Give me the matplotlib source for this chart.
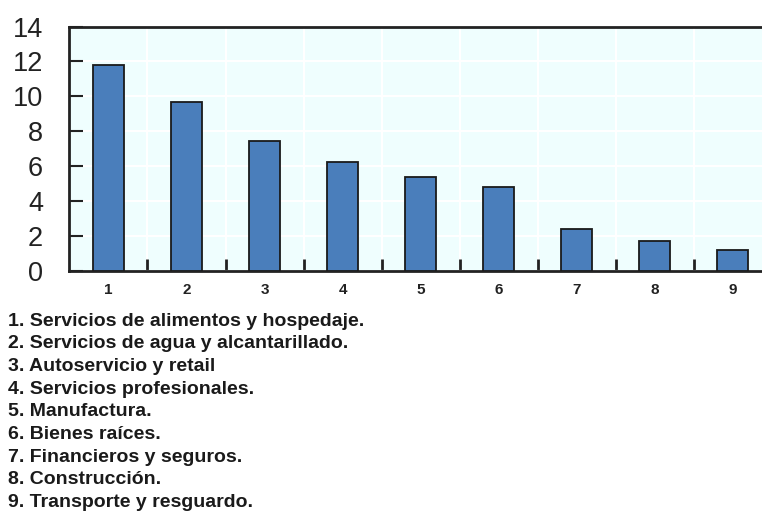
import matplotlib.pyplot as plt
import numpy as np

# porcentaje por sector
sectores = [1, 2, 3, 4, 5, 6, 7, 8, 9]
valores = [11.8, 9.65, 7.45, 6.25, 5.4, 4.8, 2.43, 1.72, 1.2]
yticks = [0, 2, 4, 6, 8, 10, 12, 14]
nombres = [
    "1. Servicios de alimentos y hospedaje.",
    "2. Servicios de agua y alcantarillado.",
    "3. Autoservicio y retail",
    "4. Servicios profesionales.",
    "5. Manufactura.",
    "6. Bienes raíces.",
    "7. Financieros y seguros.",
    "8. Construcción.",
    "9. Transporte y resguardo.",
]

fig = plt.figure(figsize=(7.62, 5.14), dpi=100)
ax = fig.add_axes([0.0912, 0.4728, 0.9213, 0.4756])
ax.set_facecolor('#effefe')

ax.bar(sectores, valores, width=0.4, color='#4a7ebb', edgecolor='#1a1a1a',
       linewidth=1.3, zorder=3)

ax.set_xlim(0.5, 9.5)
ax.set_ylim(0, 14)

# lineas blancas de la cuadricula
ax.set_xticks(np.arange(1.5, 9.5, 1), minor=True)
ax.set_yticks(yticks)
ax.set_xticks(sectores)
ax.grid(axis='y', color='white', linewidth=1.5, zorder=1)
ax.grid(axis='x', which='minor', color='white', linewidth=1.5, zorder=1)
ax.set_axisbelow(True)

ax.tick_params(axis='y', direction='in', length=10, width=1.5, pad=19,
               labelsize=19.5, color='#222222')
ax.tick_params(axis='x', which='major', length=0, pad=9)
ax.tick_params(axis='x', which='minor', direction='in', length=9, width=2,
               color='#222222')
for lab in ax.get_yticklabels():
    lab.set_fontfamily(['Liberation Sans', 'DejaVu Sans'])
    lab.set_color('#222222')
for lab in ax.get_xticklabels():
    lab.set_fontfamily(['Liberation Sans', 'DejaVu Sans'])
    lab.set_fontweight('bold')
    lab.set_fontsize(11)
    lab.set_color('#222222')

for s in ['left', 'top', 'bottom']:
    ax.spines[s].set_linewidth(2)
    ax.spines[s].set_color('#222222')
ax.spines['right'].set_visible(False)

for i, t in enumerate(nombres):
    fig.text(0.011, 1 - (321 + i * 22.7) / 514, t, fontsize=14,
             fontweight='bold', va='center', ha='left', color='#1a1a1a',
             family=['Liberation Sans', 'DejaVu Sans'])

fig.savefig('out.png', dpi=100)
